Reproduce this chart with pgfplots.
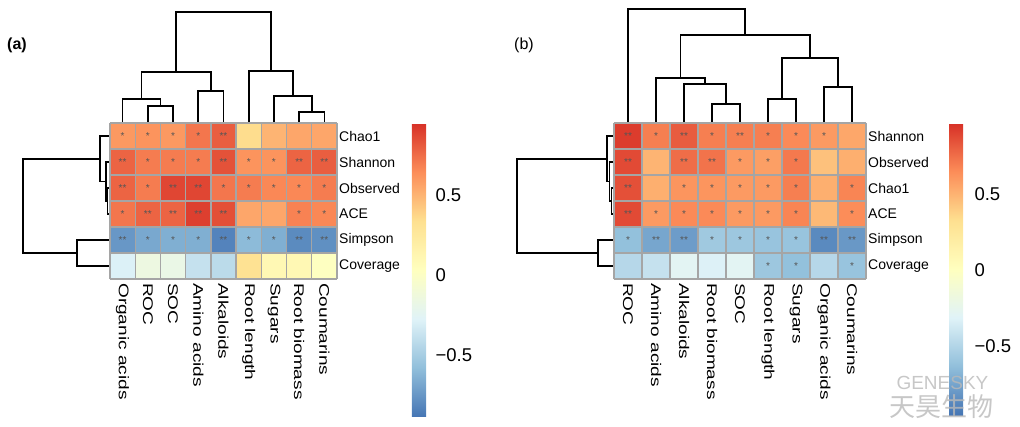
\documentclass[border=0pt]{standalone}
\usepackage{fontspec}
\setmainfont{Liberation Sans}
\newfontfamily\cjk{Noto Sans CJK SC}
\usepackage{graphicx}
\usepackage{pgfplots}
\pgfplotsset{compat=1.18}
\definecolor{gridgray}{RGB}{165,165,165}
\definecolor{stargray}{RGB}{85,85,85}
\newcommand\sx[1]{\scalebox{1.36}[1]{#1}}
\pgfplotsset{
  heatbase/.style={
    scale only axis, height=156pt,
    xmin=0, xmax=9, ymin=0, ymax=6,
    clip=false, axis on top,
    axis line style={draw=none},
    major tick length=0pt, minor tick length=0pt,
    xtick={0.5,1.5,...,8.5}, ytick={0.5,1.5,...,5.5},
    minor xtick={0,1,...,9}, minor ytick={0,1,...,6},
    xminorgrids=true, yminorgrids=true,
    xmajorgrids=false, ymajorgrids=false,
    minor grid style={draw=gridgray, line width=1.4pt},
    yticklabel pos=right,
    xticklabel style={font=\fontsize{14}{14}\selectfont, rotate=-90, anchor=west, inner sep=4pt},
    yticklabel style={font=\fontsize{14}{14}\selectfont, anchor=west, inner sep=2pt},
    colormap={rdylbu}{rgb255=(69,117,180) rgb255=(145,191,219) rgb255=(224,243,248) rgb255=(255,255,191) rgb255=(254,224,144) rgb255=(252,141,89) rgb255=(215,48,39)},
    colorbar,
  },
  dendro/.style={black, line width=1.6pt, mark=none, forget plot, line join=miter},
  stars/.style={only marks, mark=none, nodes near coords={\pgfplotspointmeta},
    point meta=explicit symbolic,
    every node near coord/.append style={anchor=center, inner sep=0pt, text=stargray, font=\fontsize{10}{10}\selectfont}},
}
\begin{document}
\begin{tikzpicture}
\path[use as bounding box] (0pt,0pt) rectangle (1020pt,426pt);

% ---------------- panel (a) ----------------
\begin{axis}[heatbase, at={(110pt,147pt)}, anchor=south west, width=227pt,
  point meta min=-0.89, point meta max=0.95,
  xticklabels={\sx{Organic acids},\sx{ROC},\sx{SOC},\sx{Amino acids},\sx{Alkaloids},\sx{Root length},\sx{Sugars},\sx{Root biomass},\sx{Coumarins}},
  yticklabels={Coverage,Simpson,ACE,Observed,Shannon,Chao1},
  colorbar shift/.style={xshift=75pt},
  colorbar style={at={(parent axis.north east)}, anchor=north west,
    width=17pt, height=294pt, axis line style={draw=none},
    major tick length=0pt, ytick={-0.5,0,0.5}, yticklabels={−0.5,0,0.5},
    yticklabel style={font=\fontsize{18.5}{19}\selectfont, xshift=3pt}},
]
\addplot[matrix plot*, mesh/cols=9, point meta=explicit] table[meta=c, row sep=\\] {
x y c\\
0.5 0.5 -0.29\\ 1.5 0.5 -0.15\\ 2.5 0.5 -0.18\\ 3.5 0.5 -0.38\\ 4.5 0.5 -0.42\\ 5.5 0.5 0.32\\ 6.5 0.5 0.10\\ 7.5 0.5 0.10\\ 8.5 0.5 0.02\\
0.5 1.5 -0.75\\ 1.5 1.5 -0.68\\ 2.5 1.5 -0.65\\ 3.5 1.5 -0.65\\ 4.5 1.5 -0.83\\ 5.5 1.5 -0.60\\ 6.5 1.5 -0.65\\ 7.5 1.5 -0.80\\ 8.5 1.5 -0.78\\
0.5 2.5 0.72\\ 1.5 2.5 0.78\\ 2.5 2.5 0.78\\ 3.5 2.5 0.90\\ 4.5 2.5 0.85\\ 5.5 2.5 0.55\\ 6.5 2.5 0.55\\ 7.5 2.5 0.68\\ 8.5 2.5 0.66\\
0.5 3.5 0.78\\ 1.5 3.5 0.70\\ 2.5 3.5 0.88\\ 3.5 3.5 0.88\\ 4.5 3.5 0.72\\ 5.5 3.5 0.70\\ 6.5 3.5 0.66\\ 7.5 3.5 0.66\\ 8.5 3.5 0.70\\
0.5 4.5 0.78\\ 1.5 4.5 0.70\\ 2.5 4.5 0.70\\ 3.5 4.5 0.70\\ 4.5 4.5 0.84\\ 5.5 4.5 0.62\\ 6.5 4.5 0.62\\ 7.5 4.5 0.78\\ 8.5 4.5 0.80\\
0.5 5.5 0.60\\ 1.5 5.5 0.62\\ 2.5 5.5 0.60\\ 3.5 5.5 0.72\\ 4.5 5.5 0.80\\ 5.5 5.5 0.35\\ 6.5 5.5 0.50\\ 7.5 5.5 0.55\\ 8.5 5.5 0.55\\
};
\addplot[stars] table[meta=s, row sep=\\] {
x y s\\
0.5 5.5 *\\ 1.5 5.5 *\\ 2.5 5.5 *\\ 3.5 5.5 *\\ 4.5 5.5 **\\
0.5 4.5 **\\ 1.5 4.5 *\\ 2.5 4.5 *\\ 3.5 4.5 *\\ 4.5 4.5 **\\ 5.5 4.5 *\\ 6.5 4.5 *\\ 7.5 4.5 **\\ 8.5 4.5 **\\
0.5 3.5 **\\ 1.5 3.5 *\\ 2.5 3.5 **\\ 3.5 3.5 **\\ 4.5 3.5 *\\ 5.5 3.5 *\\ 6.5 3.5 *\\ 7.5 3.5 *\\ 8.5 3.5 *\\
0.5 2.5 *\\ 1.5 2.5 **\\ 2.5 2.5 **\\ 3.5 2.5 **\\ 4.5 2.5 **\\ 7.5 2.5 *\\ 8.5 2.5 *\\
0.5 1.5 **\\ 1.5 1.5 *\\ 2.5 1.5 *\\ 3.5 1.5 *\\ 4.5 1.5 **\\ 5.5 1.5 *\\ 6.5 1.5 *\\ 7.5 1.5 **\\ 8.5 1.5 **\\
};
% top dendrogram (a)
\addplot[dendro] coordinates {(1.5,6) (1.5,6.654) (2.5,6.654) (2.5,6)};
\addplot[dendro] coordinates {(0.5,6) (0.5,6.923) (2.0,6.923) (2.0,6.654)};
\addplot[dendro] coordinates {(3.5,6) (3.5,7.231) (4.5,7.231) (4.5,6)};
\addplot[dendro] coordinates {(1.25,6.923) (1.25,7.962) (4.0,7.962) (4.0,7.231)};
\addplot[dendro] coordinates {(7.5,6) (7.5,6.423) (8.5,6.423) (8.5,6)};
\addplot[dendro] coordinates {(6.5,6) (6.5,7.038) (8.0,7.038) (8.0,6.423)};
\addplot[dendro] coordinates {(5.5,6) (5.5,8.0) (7.25,8.0) (7.25,7.038)};
\addplot[dendro] coordinates {(2.625,7.962) (2.625,10.27) (6.375,10.27) (6.375,8.0)};
% left dendrogram (a)
\addplot[dendro] coordinates {(0,3.5) (-0.1,3.5) (-0.1,2.5) (0,2.5)};
\addplot[dendro] coordinates {(0,4.5) (-0.16,4.5) (-0.16,3.0) (-0.1,3.0)};
\addplot[dendro] coordinates {(0,5.5) (-0.4,5.5) (-0.4,3.75) (-0.16,3.75)};
\addplot[dendro] coordinates {(0,1.5) (-1.31,1.5) (-1.31,0.5) (0,0.5)};
\addplot[dendro] coordinates {(-0.4,4.625) (-3.45,4.625) (-3.45,1.0) (-1.31,1.0)};
\end{axis}

% ---------------- panel (b) ----------------
\begin{axis}[heatbase, at={(614pt,147pt)}, anchor=south west, width=252pt,
  point meta min=-0.95, point meta max=0.97,
  xticklabels={\sx{ROC},\sx{Amino acids},\sx{Alkaloids},\sx{Root biomass},\sx{SOC},\sx{Root length},\sx{Sugars},\sx{Organic acids},\sx{Coumarins}},
  yticklabels={Coverage,Simpson,ACE,Chao1,Observed,Shannon},
  colorbar shift/.style={xshift=83pt},
  colorbar style={at={(parent axis.north east)}, anchor=north west,
    width=19pt, height=292pt, axis line style={draw=none},
    major tick length=0pt, ytick={-0.5,0,0.5}, yticklabels={−0.5,0,0.5},
    yticklabel style={font=\fontsize{18.5}{19}\selectfont, xshift=3pt}},
]
\addplot[matrix plot*, mesh/cols=9, point meta=explicit] table[meta=c, row sep=\\] {
x y c\\
0.5 0.5 -0.48\\ 1.5 0.5 -0.42\\ 2.5 0.5 -0.28\\ 3.5 0.5 -0.32\\ 4.5 0.5 -0.28\\ 5.5 0.5 -0.58\\ 6.5 0.5 -0.62\\ 7.5 0.5 -0.48\\ 8.5 0.5 -0.60\\
0.5 1.5 -0.62\\ 1.5 1.5 -0.74\\ 2.5 1.5 -0.78\\ 3.5 1.5 -0.57\\ 4.5 1.5 -0.58\\ 5.5 1.5 -0.60\\ 6.5 1.5 -0.60\\ 7.5 1.5 -0.86\\ 8.5 1.5 -0.80\\
0.5 2.5 0.88\\ 1.5 2.5 0.60\\ 2.5 2.5 0.66\\ 3.5 2.5 0.66\\ 4.5 2.5 0.60\\ 5.5 2.5 0.60\\ 6.5 2.5 0.68\\ 7.5 2.5 0.48\\ 8.5 2.5 0.65\\
0.5 3.5 0.86\\ 1.5 3.5 0.52\\ 2.5 3.5 0.62\\ 3.5 3.5 0.62\\ 4.5 3.5 0.60\\ 5.5 3.5 0.60\\ 6.5 3.5 0.70\\ 7.5 3.5 0.52\\ 8.5 3.5 0.68\\
0.5 4.5 0.88\\ 1.5 4.5 0.50\\ 2.5 4.5 0.76\\ 3.5 4.5 0.74\\ 4.5 4.5 0.60\\ 5.5 4.5 0.58\\ 6.5 4.5 0.72\\ 7.5 4.5 0.45\\ 8.5 4.5 0.52\\
0.5 5.5 0.93\\ 1.5 5.5 0.70\\ 2.5 5.5 0.82\\ 3.5 5.5 0.70\\ 4.5 5.5 0.70\\ 5.5 5.5 0.70\\ 6.5 5.5 0.66\\ 7.5 5.5 0.60\\ 8.5 5.5 0.55\\
};
\addplot[stars] table[meta=s, row sep=\\] {
x y s\\
0.5 5.5 **\\ 1.5 5.5 *\\ 2.5 5.5 **\\ 3.5 5.5 *\\ 4.5 5.5 **\\ 5.5 5.5 *\\ 6.5 5.5 *\\ 7.5 5.5 *\\
0.5 4.5 **\\ 2.5 4.5 **\\ 3.5 4.5 **\\ 4.5 4.5 *\\ 5.5 4.5 *\\ 6.5 4.5 *\\
0.5 3.5 **\\ 2.5 3.5 *\\ 3.5 3.5 *\\ 4.5 3.5 *\\ 5.5 3.5 *\\ 6.5 3.5 *\\ 8.5 3.5 *\\
0.5 2.5 **\\ 1.5 2.5 *\\ 2.5 2.5 *\\ 3.5 2.5 *\\ 4.5 2.5 *\\ 5.5 2.5 *\\ 6.5 2.5 *\\ 8.5 2.5 *\\
0.5 1.5 *\\ 1.5 1.5 **\\ 2.5 1.5 **\\ 3.5 1.5 *\\ 4.5 1.5 *\\ 5.5 1.5 *\\ 6.5 1.5 *\\ 7.5 1.5 **\\ 8.5 1.5 **\\
5.5 0.5 *\\ 6.5 0.5 *\\ 8.5 0.5 *\\
};
% top dendrogram (b)
\addplot[dendro] coordinates {(3.5,6) (3.5,6.731) (4.5,6.731) (4.5,6)};
\addplot[dendro] coordinates {(2.5,6) (2.5,7.5) (4.0,7.5) (4.0,6.731)};
\addplot[dendro] coordinates {(1.5,6) (1.5,7.731) (3.25,7.731) (3.25,7.5)};
\addplot[dendro] coordinates {(5.5,6) (5.5,6.923) (6.5,6.923) (6.5,6)};
\addplot[dendro] coordinates {(7.5,6) (7.5,7.385) (8.5,7.385) (8.5,6)};
\addplot[dendro] coordinates {(6.0,6.923) (6.0,8.5) (8.0,8.5) (8.0,7.385)};
\addplot[dendro] coordinates {(2.375,7.731) (2.375,9.385) (7.0,9.385) (7.0,8.5)};
\addplot[dendro] coordinates {(0.5,6) (0.5,10.385) (4.6875,10.385) (4.6875,9.385)};
% left dendrogram (b)
\addplot[dendro] coordinates {(0,3.5) (-0.09,3.5) (-0.09,2.5) (0,2.5)};
\addplot[dendro] coordinates {(0,4.5) (-0.16,4.5) (-0.16,3.0) (-0.09,3.0)};
\addplot[dendro] coordinates {(0,5.5) (-0.25,5.5) (-0.25,3.75) (-0.16,3.75)};
\addplot[dendro] coordinates {(0,1.5) (-0.571,1.5) (-0.571,0.5) (0,0.5)};
\addplot[dendro] coordinates {(-0.25,4.625) (-3.464,4.625) (-3.464,1.0) (-0.571,1.0)};
\end{axis}

\node[font=\bfseries\fontsize{16}{16}\selectfont] at (17pt,381pt) {(a)};
\node[font=\fontsize{16}{16}\selectfont] at (524pt,381pt) {(b)};
\node[text=gray!55, opacity=0.8, font=\fontsize{19}{19}\selectfont, anchor=west] at (893pt,43pt) {GENESKY};
\node[text=gray!55, opacity=0.8, font=\cjk\fontsize{26}{26}\selectfont, anchor=west] at (886pt,19pt) {天昊生物};
\end{tikzpicture}
\end{document}
